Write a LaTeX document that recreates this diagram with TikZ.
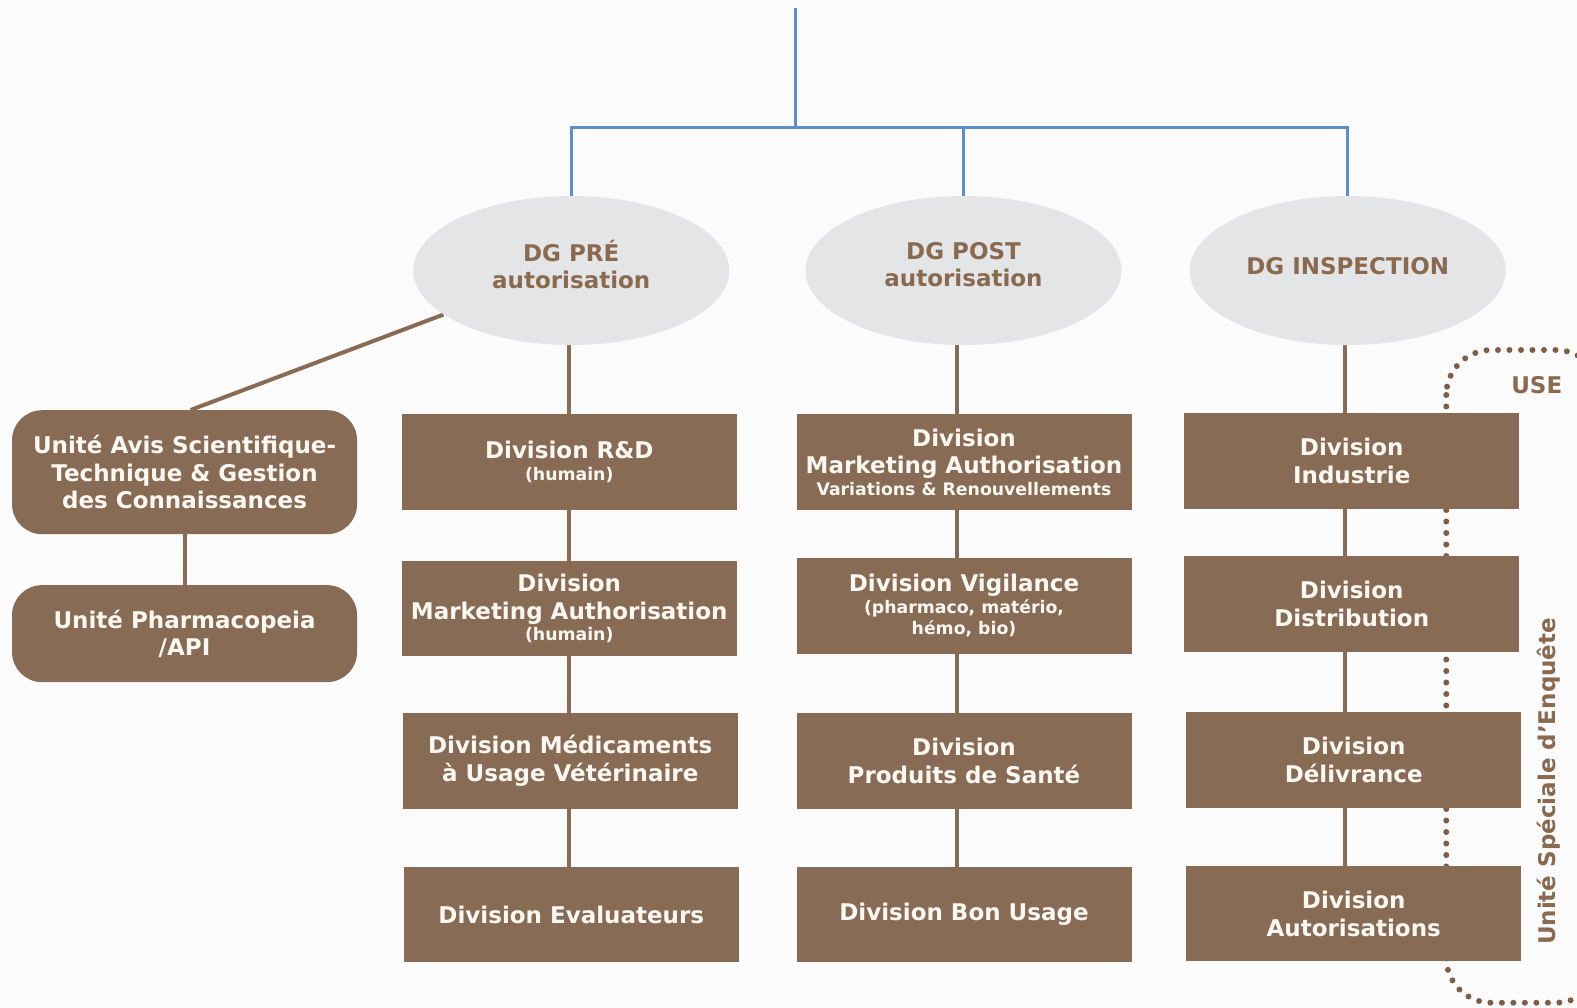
\documentclass[tikz,border=0pt]{standalone}
\usepackage{fontspec}
\setmainfont{DejaVu Sans}
\usetikzlibrary{shapes.geometric,backgrounds}
\definecolor{brownbox}{HTML}{876B54}
\definecolor{browntxt}{HTML}{8A6A4F}
\definecolor{ellfill}{HTML}{E4E5E7}
\definecolor{linkblue}{HTML}{5B8FC9}
\definecolor{dotbrown}{HTML}{7D5F47}
\definecolor{boxtxt}{HTML}{FBF8F2}
\definecolor{bgcol}{HTML}{FBFBFB}
\newcommand\smtxt{\fontsize{17.3}{20}\selectfont}
\begin{document}
\begin{tikzpicture}[x=1.00574pt,y=-1.00574pt,
  mainfont/.style={font=\bfseries\fontsize{23}{27.5}\selectfont},
  divbox/.style={rectangle, fill=brownbox, text=boxtxt, minimum width=335pt,
    minimum height=95.5pt, inner sep=0pt, align=center, mainfont},
  unitbox/.style={rectangle, rounded corners=30pt, fill=brownbox, text=boxtxt,
    minimum width=345pt, inner sep=0pt, align=center, mainfont},
  dgell/.style={ellipse, fill=ellfill, minimum width=316pt, minimum height=149pt,
    inner sep=0pt, text=browntxt, align=center, mainfont},
  bluelink/.style={draw=linkblue, line width=3pt},
  brownlink/.style={draw=brownbox, line width=4pt},
  dotline/.style={draw=dotbrown, line width=6pt, line cap=round,
    dash pattern=on 0pt off 11.5pt, rounded corners=45pt},
  uselabel/.style={text=browntxt, mainfont}
]
\useasboundingbox (0,0) rectangle (1568,1002);

% ellipses
\node[dgell, text depth=12pt] (e1) at (568,269) {DG PRÉ\\autorisation};
\node[dgell, text depth=12pt] (e2) at (958,269) {DG POST\\autorisation};
\node[dgell, text depth=9pt] (e3) at (1340,269) {DG INSPECTION};

% column 1
\node[divbox] (a1) at (566,459.5) {Division R\&D\\[-6pt]{\smtxt (humain)}};
\node[divbox] (a2) at (566,605) {Division\\Marketing Authorisation\\[-6pt]{\smtxt (humain)}};
\node[divbox] (a3) at (567,756.5) {Division Médicaments\\à Usage Vétérinaire};
\node[divbox] (a4) at (568,909.5) {Division Evaluateurs};

% column 2
\node[divbox] (b1) at (958.5,459.5) {Division\\Marketing Authorisation\\[-6pt]{\smtxt Variations \& Renouvellements}};
\node[divbox] (b2) at (958.5,602.5) {Division Vigilance\\[-6pt]{\smtxt (pharmaco, matério,}\\[-6pt]{\smtxt hémo, bio)}};
\node[divbox] (b3) at (958.5,756.5) {Division\\Produits de Santé};
\node[divbox] (b4) at (958.5,909.5) {Division Bon Usage};

% column 3
\node[divbox] (c1) at (1344,458.5) {Division\\Industrie};
\node[divbox] (c2) at (1344,600.5) {Division\\Distribution};
\node[divbox] (c3) at (1346,755.5) {Division\\Délivrance};
\node[divbox] (c4) at (1346,908.5) {Division\\Autorisations};

% units
\node[unitbox, minimum height=124pt] (u1) at (183.5,469.5) {Unité Avis Scientifique-\\Technique \& Gestion\\des Connaissances};
\node[unitbox, minimum height=97pt] (u2) at (183.5,630) {Unité Pharmacopeia\\/API};

% USE
\node[uselabel] (use) at (1528,383) {USE};
\node[uselabel, rotate=90] (usefull) at (1540,777) {Unité Spéciale d’Enquête};

\coordinate (top) at (791,8);
\coordinate (hub) at (791,127);
\coordinate (l1) at (566,0);
\coordinate (l2) at (952,0);
\coordinate (l3) at (1337,0);
\coordinate (dtl) at (1438,348);
\coordinate (dbr) at (1592,997);

\begin{scope}[on background layer]
  \fill[bgcol] (0,0) rectangle (1568,1002);
  \begin{scope}
    \clip (0,0) rectangle (1568,1002);
    \draw[dotline] (dtl) rectangle (dbr);
  \end{scope}
  % blue tree
  \draw[bluelink] (top) -- (hub);
  \draw[bluelink] (e1.north) |- (hub) -| (e3.north);
  \draw[bluelink] (e2.north) -- (e2.north |- hub);
  % brown links
  \draw[brownlink] (e1.south -| l1) -- (a1.north -| l1);
  \draw[brownlink] (a1.south -| l1) -- (a2.north -| l1);
  \draw[brownlink] (a2.south -| l1) -- (a3.north -| l1);
  \draw[brownlink] (a3.south -| l1) -- (a4.north -| l1);
  \draw[brownlink] (e2.south -| l2) -- (b1.north -| l2);
  \draw[brownlink] (b1.south -| l2) -- (b2.north -| l2);
  \draw[brownlink] (b2.south -| l2) -- (b3.north -| l2);
  \draw[brownlink] (b3.south -| l2) -- (b4.north -| l2);
  \draw[brownlink] (e3.south -| l3) -- (c1.north -| l3);
  \draw[brownlink] (c1.south -| l3) -- (c2.north -| l3);
  \draw[brownlink] (c2.south -| l3) -- (c3.north -| l3);
  \draw[brownlink] (c3.south -| l3) -- (c4.north -| l3);
  \draw[brownlink] (e1.199) -- ([xshift=6pt]u1.north);
  \draw[brownlink] (u1.south) -- (u2.north);
\end{scope}
\end{tikzpicture}
\end{document}
